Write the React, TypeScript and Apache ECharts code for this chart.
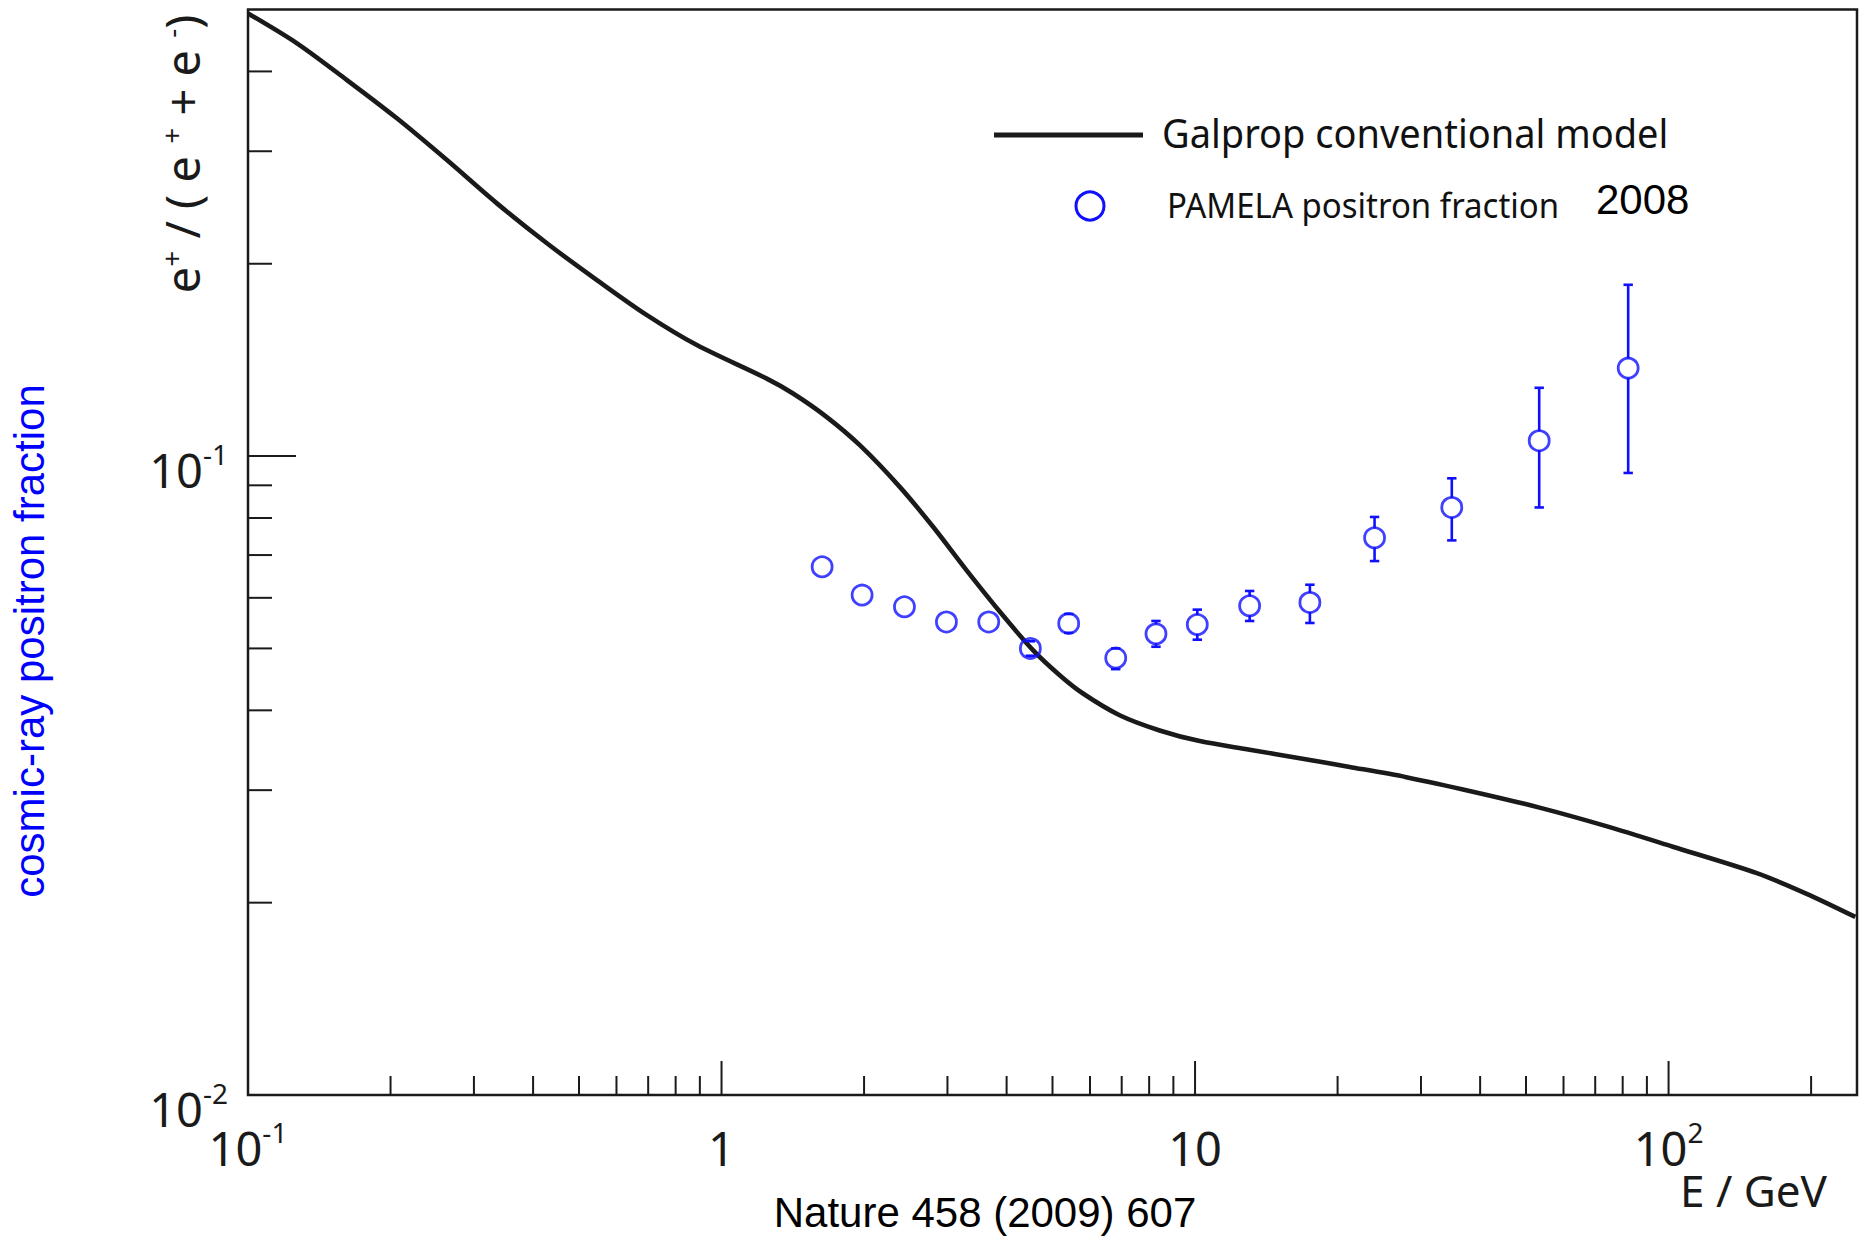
import React, { useEffect, useRef } from 'react';
import * as echarts from 'echarts';

// ---- Galprop conventional model (E in GeV, positron fraction) ----
const galpropE = [0.1, 0.1269, 0.1618, 0.2063, 0.2631, 0.3355, 0.4278, 0.5455, 0.6957, 0.887, 1.246, 1.416, 1.666, 1.959, 2.379, 2.797, 3.29, 3.868, 4.547, 5.178, 5.8, 6.93, 8.42, 10.23, 13.04, 16.63, 21.21, 27.93, 38.61, 53.39, 73.85, 102.1, 153.0, 195.2, 248];
const galpropF = [0.493, 0.4426, 0.3877, 0.3378, 0.2906, 0.2486, 0.2153, 0.1886, 0.1662, 0.1492, 0.1322, 0.1253, 0.1152, 0.104, 0.0895, 0.0775, 0.0663, 0.0571, 0.0497, 0.0454, 0.0425, 0.0393, 0.0372, 0.0358, 0.03471, 0.03366, 0.03262, 0.03144, 0.02984, 0.02817, 0.02635, 0.02447, 0.02227, 0.02067, 0.019];

// ---- PAMELA positron fraction 2008 ----
const pamelaE = [1.631, 1.981, 2.434, 2.985, 3.667, 4.49, 5.41, 6.8, 8.27, 10.11, 13.04, 17.48, 23.94, 34.85, 53.31, 82.17];
const pamelaF = [0.0671, 0.0606, 0.0581, 0.055, 0.055, 0.05, 0.0547, 0.0483, 0.0527, 0.0545, 0.0583, 0.059, 0.0745, 0.0831, 0.1057, 0.1373];
const pamelaHi = [null, null, null, null, null, 0.0513, 0.0566, 0.05, 0.0552, 0.0575, 0.0615, 0.0629, 0.0803, 0.0923, 0.1279, 0.1854];
const pamelaLo = [null, null, null, null, null, 0.0487, 0.0529, 0.0464, 0.0503, 0.0516, 0.0552, 0.0548, 0.0685, 0.0738, 0.0831, 0.0941];

// ---- axes ----
const X_MIN = 0.1;
const X_MAX = 250;
const Y_MIN = 0.01;
const Y_MAX = 0.5;
const xMajorTicks = [0.1, 1, 10, 100];
const xMajorBase = ['10', '1', '10', '10'];
const xMajorSup = ['-1', '', '', '2'];
const xMinorTicks = [0.2, 0.3, 0.4, 0.5, 0.6, 0.7, 0.8, 0.9, 2, 3, 4, 5, 6, 7, 8, 9, 20, 30, 40, 50, 60, 70, 80, 90, 200];
const yMajorTicks = [0.01, 0.1];
const yMajorBase = ['10', '10'];
const yMajorSup = ['-2', '-1'];
const yMinorTicks = [0.02, 0.03, 0.04, 0.05, 0.06, 0.07, 0.08, 0.09, 0.2, 0.3, 0.4];

const BLUE = '#1010ff';
const INK = '#1a1a1a';
const SANS = '"Noto Sans", "Open Sans", sans-serif';
const ARIAL = '"Liberation Sans", Arial, sans-serif';

const richLabel = {
  b: { fontSize: 47, lineHeight: 60, fontFamily: SANS, fill: INK, color: INK },
  s: { fontSize: 28, lineHeight: 28, verticalAlign: 'top', fontFamily: SANS, fill: INK, color: INK },
};

const labelText = (base: string, sup: string) => (sup ? `{b|${base}}{s|${sup}}` : `{b|${base}}`);

const xTickRender = (major: boolean) => (params: any, api: any) => {
  const p = api.coord([api.value(0), Y_MIN]);
  const len = major ? 34 : 19;
  const children: any[] = [
    { type: 'line', shape: { x1: p[0], y1: p[1], x2: p[0], y2: p[1] - len }, style: { stroke: INK, lineWidth: 2 } },
  ];
  if (major) {
    const i = params.dataIndex;
    children.push({
      type: 'text',
      x: p[0],
      y: p[1] + 23,
      style: { text: labelText(xMajorBase[i], xMajorSup[i]), rich: richLabel, align: 'center', verticalAlign: 'top', fill: INK },
    });
  }
  return { type: 'group', children };
};

const yTickRender = (major: boolean) => (params: any, api: any) => {
  const p = api.coord([X_MIN, api.value(1)]);
  const len = major ? 48 : 24;
  const children: any[] = [
    { type: 'line', shape: { x1: p[0], y1: p[1], x2: p[0] + len, y2: p[1] }, style: { stroke: INK, lineWidth: 2 } },
  ];
  if (major) {
    const i = params.dataIndex;
    children.push({
      type: 'text',
      x: p[0] - 20,
      y: p[1] - 16,
      style: { text: labelText(yMajorBase[i], yMajorSup[i]), rich: richLabel, align: 'right', verticalAlign: 'top', fill: INK },
    });
  }
  return { type: 'group', children };
};

const errRender = (params: any, api: any) => {
  const x = api.value(0);
  const c = api.coord([x, api.value(1)]);
  const hi = api.coord([x, api.value(2)]);
  const lo = api.coord([x, api.value(3)]);
  const r = 9.5;
  const cap = 4.7;
  const st = { stroke: BLUE, lineWidth: 2.6 };
  const ch: any[] = [];
  if (hi[1] < c[1] - r) ch.push({ type: 'line', shape: { x1: c[0], y1: hi[1], x2: c[0], y2: c[1] - r }, style: st });
  if (lo[1] > c[1] + r) ch.push({ type: 'line', shape: { x1: c[0], y1: c[1] + r, x2: c[0], y2: lo[1] }, style: st });
  ch.push({ type: 'line', shape: { x1: c[0] - cap, y1: hi[1], x2: c[0] + cap, y2: hi[1] }, style: st });
  ch.push({ type: 'line', shape: { x1: c[0] - cap, y1: lo[1], x2: c[0] + cap, y2: lo[1] }, style: st });
  return { type: 'group', children: ch };
};

const errData = pamelaE
  .map((e, i) => [e, pamelaF[i], pamelaHi[i], pamelaLo[i]])
  .filter((d) => d[2] != null && d[3] != null);

const hiddenAxis = {
  axisLine: { show: false },
  axisTick: { show: false },
  axisLabel: { show: false },
  splitLine: { show: false },
  minorTick: { show: false },
  minorSplitLine: { show: false },
};

const option: any = {
  animation: false,
  backgroundColor: '#ffffff',
  grid: { left: 248, right: 6, top: 9.5, bottom: 145, show: true, borderColor: INK, borderWidth: 2.5, backgroundColor: 'rgba(0,0,0,0)' },
  xAxis: { type: 'log', logBase: 10, min: X_MIN, max: X_MAX, ...hiddenAxis },
  yAxis: { type: 'log', logBase: 10, min: Y_MIN, max: Y_MAX, ...hiddenAxis },
  series: [
    {
      type: 'line',
      name: 'Galprop conventional model',
      data: galpropE.map((e, i) => [e, galpropF[i]]),
      showSymbol: false,
      symbol: 'none',
      smooth: 0.3,
      lineStyle: { color: INK, width: 4.6 },
      z: 3,
      silent: true,
    },
    {
      type: 'custom',
      name: 'PAMELA error bars',
      data: errData,
      renderItem: errRender,
      encode: { x: 0, y: [1, 2, 3] },
      z: 4,
      silent: true,
    },
    {
      type: 'scatter',
      name: 'PAMELA positron fraction',
      data: pamelaE.map((e, i) => [e, pamelaF[i]]),
      symbol: 'circle',
      symbolSize: 20,
      itemStyle: { color: 'rgba(0,0,0,0)', borderColor: BLUE, borderWidth: 2.8 },
      z: 5,
      silent: true,
    },
    { type: 'custom', data: xMajorTicks.map((v) => [v, Y_MIN]), renderItem: xTickRender(true), encode: { x: 0, y: 1 }, z: 6, silent: true },
    { type: 'custom', data: xMinorTicks.map((v) => [v, Y_MIN]), renderItem: xTickRender(false), encode: { x: 0, y: 1 }, z: 6, silent: true },
    { type: 'custom', data: yMajorTicks.map((v) => [X_MIN, v]), renderItem: yTickRender(true), encode: { x: 0, y: 1 }, z: 6, silent: true },
    { type: 'custom', data: yMinorTicks.map((v) => [X_MIN, v]), renderItem: yTickRender(false), encode: { x: 0, y: 1 }, z: 6, silent: true },
  ],
  graphic: [
    { type: 'line', shape: { x1: 994, y1: 135, x2: 1143, y2: 135 }, style: { stroke: INK, lineWidth: 5 } },
    {
      type: 'text', x: 1162, y: 132.5, scaleX: 0.95,
      style: { text: 'Galprop conventional model', fontFamily: SANS, fontSize: 40, fill: '#111', align: 'left', verticalAlign: 'middle' },
    },
    { type: 'circle', shape: { cx: 1090, cy: 206, r: 14 }, style: { fill: 'none', stroke: BLUE, lineWidth: 3 } },
    {
      type: 'text', x: 1167, y: 205.3, scaleX: 0.97,
      style: { text: 'PAMELA positron fraction', fontFamily: SANS, fontSize: 34, fill: '#111', align: 'left', verticalAlign: 'middle' },
    },
    {
      type: 'text', x: 1596, y: 199,
      style: { text: '2008', fontFamily: ARIAL, fontSize: 42, fill: '#000', align: 'left', verticalAlign: 'middle' },
    },
    {
      type: 'text', x: 1827, y: 1190,
      style: { text: 'E / GeV', fontFamily: SANS, fontSize: 44, fill: INK, align: 'right', verticalAlign: 'middle' },
    },
    {
      type: 'text', x: 985, y: 1212,
      style: { text: 'Nature 458 (2009) 607', fontFamily: ARIAL, fontSize: 42, fill: '#000', align: 'center', verticalAlign: 'middle' },
    },
    {
      type: 'text', x: 29, y: 641, rotation: Math.PI / 2,
      style: { text: 'cosmic-ray positron fraction', fontFamily: ARIAL, fontSize: 42, fill: '#0000ff', align: 'center', verticalAlign: 'middle' },
    },
    {
      type: 'text', x: 182, y: 154, rotation: Math.PI / 2,
      style: {
        text: '{b|e}{s|+}{b| / ( e }{s|+}{b| + e }{s|-}{b|)}',
        rich: {
          b: { fontSize: 47, lineHeight: 50, fontFamily: SANS, fill: INK, color: INK },
          s: { fontSize: 28, lineHeight: 28, verticalAlign: 'top', fontFamily: SANS, fill: INK, color: INK },
        },
        fill: INK,
        align: 'center',
        verticalAlign: 'middle',
      },
    },
  ],
};

export default function App() {
  const ref = useRef<HTMLDivElement>(null);
  useEffect(() => {
    document.body.style.margin = '0';
    const chart = echarts.init(ref.current as HTMLDivElement, undefined, { renderer: 'svg' });
    chart.setOption(option);
    return () => chart.dispose();
  }, []);
  return (
    <div
      ref={ref}
      style={{ position: 'absolute', left: 0, top: 0, width: 1863, height: 1240, background: '#ffffff' }}
    />
  );
}
